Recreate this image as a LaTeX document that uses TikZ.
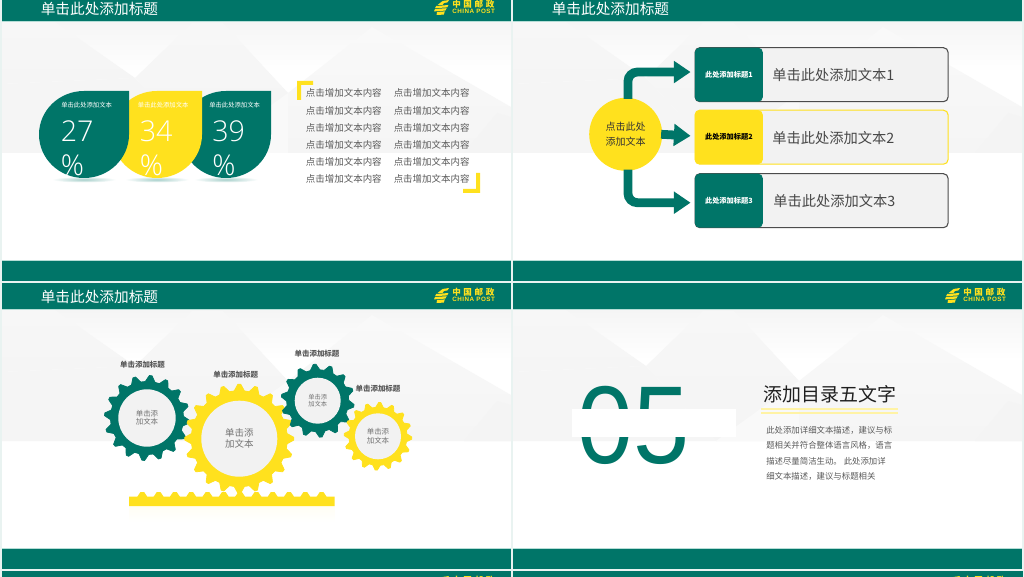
\documentclass[tikz,border=0pt]{standalone}
\usepackage{fontspec}
\usetikzlibrary{arrows.meta,shapes.geometric}
\setmainfont{Noto Sans CJK SC}
\newfontfamily\numfont[UprightFont=* Light]{Open Sans}
\newfontfamily\bignum{Liberation Sans}
\newfontfamily\logofont[LetterSpace=8]{Liberation Sans}
\definecolor{post}{HTML}{007568}
\definecolor{mail}{HTML}{FFE11E}
\definecolor{pale}{HTML}{E9F3F1}
\definecolor{edge}{HTML}{B5DDD6}
\definecolor{soft}{HTML}{F2F2F2}
\definecolor{body}{HTML}{595959}
\definecolor{bgA}{HTML}{F9F9F9}
\definecolor{bgB}{HTML}{F7F7F7}
\definecolor{bgC}{HTML}{F5F5F5}
\definecolor{bgD}{HTML}{F4F4F4}
\newcommand{\fs}[2]{\fontsize{#1}{#2}\selectfont}
\newcommand{\slidebase}[2]{%
 \begin{scope}[shift={(#1,#2)}]
  \fill[white] (2,22) rectangle (511,261);
  \shade[top color=bgC,bottom color=white] (2,22) rectangle (511,72);
  \fill[bgC] (2,84) -- (135,78) -- (205,153) -- (2,153) -- cycle;
  \shade[top color=bgB,bottom color=bgC] (2,22) -- (55,22) -- (135,78) -- (2,84) -- cycle;
  \shade[top color=bgB,bottom color=bgD] (135,78) -- (192,23) -- (223,23) -- (288,93) -- (288,153) -- (205,153) -- cycle;
  \fill[bgA] (205,153) -- (288,93) -- (288,153) -- cycle;
  \shade[top color=bgA,bottom color=bgC] (288,93) -- (372,27) -- (511,107) -- (511,153) -- (288,153) -- cycle;
  \fill[bgD] (464,153) -- (497,113) -- (511,117) -- (511,153) -- cycle;
  \fill[post] (2,-5) rectangle (511,21);
  \fill[edge] (2,21) rectangle (511,22);
  \fill[edge] (2,260) rectangle (511,261);
  \fill[post] (2,261) rectangle (511,281);
 \end{scope}}
\newcommand{\logo}[3]{%
 \begin{scope}[shift={(#1,#2)}]
  \fill[mail] (3.6,5) -- (8.6,1) -- (15,0) -- (13.4,2.4) -- (10,3) -- (8.4,5) -- cycle;
  \fill[mail] (2.2,6) -- (14.4,5) -- (13.2,7.4) -- (1,8.2) -- cycle;
  \fill[mail] (1,9) -- (12.6,8.2) -- (11.4,10.6) -- (0,11.4) -- cycle;
  \fill[mail] (3,12) -- (10.8,11.4) -- (9.8,14.6) -- (2.6,15) -- cycle;
  \node[font=\fs{6.4}{7}\bfseries,text=mail,anchor=west,inner sep=0] (logoa#3) at (18,4.3) {中\hspace{2pt}国\hspace{2pt}邮\hspace{2pt}政};
  \node[font=\logofont\fs{4.7}{5}\bfseries,text=mail,anchor=west,inner sep=0] (logob#3) at (18,11.7) {CHINA POST};
 \end{scope}}
\newcommand{\drop}[3]{%
 \begin{scope}[shift={(#1,#2)}]
  \fill[#3] (90,0) -- (45,0) .. controls (20.1,0) and (0,19.5) .. (0,43.5) .. controls (0,67.5) and (20.1,87) .. (45,87) .. controls (69.9,87) and (90,67.5) .. (90,43.5) -- cycle;
 \end{scope}}
\newcommand{\gear}[7]{%
 \begin{scope}[shift={(#1,#2)}]
  \pgfmathsetmacro{\gp}{360/#5}
  \filldraw[#7,line width=0.6pt,line join=round] (#6-0.34*\gp:#4)
   \foreach \i in {1,...,#5}{
     -- ({#6+(\i-1)*\gp-0.34*\gp}:#4)
     -- ({#6+(\i-1)*\gp-0.08*\gp}:#3-0.5)
     -- ({#6+(\i-1)*\gp+0.08*\gp}:#3-0.5)
     -- ({#6+(\i-1)*\gp+0.34*\gp}:#4)
   } -- cycle;
 \end{scope}}
\tikzset{
 hubnode/.style={circle,fill=mail,minimum size=73*0.75pt,inner sep=0,align=center},
 rowbox/.style={rectangle,rounded corners=3.5pt,fill=soft,draw=#1,line width=0.8pt,minimum width=253*0.75pt,minimum height=54*0.75pt,inner sep=0},
 tabbox/.style={rectangle,rounded corners=3.5pt,fill=#1,minimum width=68*0.75pt,minimum height=54*0.75pt,inner sep=0,anchor=west},
 rowtext/.style={font=\fs{10.7}{13},text=black!72,anchor=west,inner sep=0},
 flow/.style={draw=post,line width=6.6pt,-{Triangle[length=12.5pt,width=16pt]},rounded corners=7pt},
 geartext/.style={circle,fill=soft,inner sep=0,align=center,text=black!55},
 gearlabel/.style={font=\fs{5.6}{7}\bfseries,text=black!65,inner sep=0},
 listtext/.style={font=\fs{7.1}{9},text=body,inner sep=0,anchor=west},
 droptext/.style={font=\fs{4.75}{6},text=white,inner sep=0,anchor=west},
 dropnum/.style={font=\numfont\fs{21.5}{26},text=white,inner sep=0,anchor=west},
 paraline/.style={font=\fs{6.3}{8},text=body,inner sep=0,anchor=west},
 slidetitle/.style={font=\fs{11}{13},text=white,anchor=west,inner sep=0},
}
\begin{document}
\begin{tikzpicture}[x=0.75pt,y=-0.75pt]
\useasboundingbox (0,0) rectangle (1024,577);
\clip (0,0) rectangle (1024,577);
\fill[pale] (0,0) rectangle (1024,577);
\slidebase{0}{0}
\slidebase{511}{0}
\slidebase{0}{288}
\slidebase{511}{288}
\fill[post] (2,571) rectangle (511,577);
\fill[post] (513,571) rectangle (1023,577);
\logo{434}{0}{a}
\logo{434}{288}{c}
\logo{945}{288}{d}
\logo{434}{576}{e}
\logo{945}{576}{f}
\node[slidetitle] (ta) at (40.5,8.5) {单击此处添加标题};
\node[slidetitle] (tb) at (551.5,8.5) {单击此处添加标题};
\node[slidetitle] (tc) at (40.5,296.5) {单击此处添加标题};
% slide 1
\shade[inner color=post!35,outer color=white] (84,179.5) ellipse (32 and 3);
\shade[inner color=post!35,outer color=white] (157,179.5) ellipse (32 and 3);
\shade[inner color=post!35,outer color=white] (226,179.5) ellipse (32 and 3);
\drop{181}{91}{post}
\drop{112}{91}{mail}
\drop{39}{91}{post}
\node[droptext] (d1) at (61,105) {单击此处添加文本};
\node[droptext] (d2) at (137.5,105) {单击此处添加文本};
\node[droptext] (d3) at (209,105) {单击此处添加文本};
\node[dropnum] (n1) at (60.5,131) {27};
\node[dropnum] (n2) at (139.5,131) {34};
\node[dropnum] (n3) at (212,131) {39};
\node[dropnum] (p1) at (60.5,165) {\%};
\node[dropnum] (p2) at (139.5,165) {\%};
\node[dropnum] (p3) at (212,165) {\%};
\fill[mail] (297,81) -- (313,81) -- (313,85) -- (301,85) -- (301,100) -- (297,100) -- cycle;
\fill[mail] (480,193) -- (463,193) -- (463,189) -- (476,189) -- (476,173) -- (480,173) -- cycle;
\foreach \k/\yy in {1/93,2/110.5,3/127.5,4/144.5,5/161.5,6/179}{
 \node[listtext] (la\k) at (305.7,\yy) {点击增加文本内容};
 \node[listtext] (lb\k) at (393.5,\yy) {点击增加文本内容};
}
% slide 2
\node[rowbox=black!70] (box1) at (821.6,74.7) {};
\node[rowbox=mail] (box2) at (821.6,137.2) {};
\node[rowbox=black!70] (box3) at (821.6,200.7) {};
\node[tabbox=post,font=\fs{5.4}{7}\bfseries,text=white] (tab1) at (box1.west) {此处添加标题1};
\node[tabbox=mail,font=\fs{5.4}{7}\bfseries,text=black] (tab2) at (box2.west) {此处添加标题2};
\node[tabbox=post,font=\fs{5.4}{7}\bfseries,text=white] (tab3) at (box3.west) {此处添加标题3};
\node[rowtext] (r1) at (772,75.5) {单击此处添加文本1};
\node[rowtext] (r2) at (772,138) {单击此处添加文本2};
\node[rowtext] (r3) at (773,201.5) {单击此处添加文本3};
\node[hubnode,font=\fs{7.5}{11},text=black!80] (hubc) at (625.7,134.3) {点击此处\\添加文本};
\draw[flow] ([xshift=1.7pt,yshift=-1pt]hubc.north) |- ([xshift=-3pt,yshift=2pt]box1.west);
\draw[flow] ([xshift=-1pt]hubc.east) -- ([xshift=-3pt,yshift=1pt]box2.west);
\draw[flow] ([xshift=1.7pt,yshift=1pt]hubc.south) |- ([xshift=-3pt,yshift=-1.5pt]box3.west);
% slide 3
\gear{147}{418}{43}{36.5}{16}{5}{post}
\gear{239.3}{438.7}{55}{48}{20}{0}{mail}
\gear{317.7}{400.7}{37}{31}{14}{8}{post}
\gear{378}{436.3}{34.3}{29}{16}{3}{mail}
\node[geartext,minimum size=57.4*0.75pt,font=\fs{5.6}{6.2}] (g1) at (147,418) {单击添\\加文本};
\node[geartext,minimum size=76*0.75pt,font=\fs{7.1}{8.4}] (g2) at (239.3,438.7) {单击添\\加文本};
\node[geartext,minimum size=46*0.75pt,font=\fs{4.7}{5.8}] (g3) at (317.7,400.7) {单击添\\加文本};
\node[geartext,minimum size=46*0.75pt,font=\fs{5.6}{6.2}] (g4) at (378,436.3) {单击添\\加文本};
\node[gearlabel] (gl1) at (142.5,364.3) {单击添加标题};
\node[gearlabel] (gl2) at (235.7,374.3) {单击添加标题};
\node[gearlabel] (gl3) at (317,353.3) {单击添加标题};
\node[gearlabel] (gl4) at (378,388.3) {单击添加标题};
\shade[top color=mail!5,bottom color=white] (129,506) rectangle (334.7,522);
\fill[mail] (129,506) -- (129,496.7)
 \foreach \i in {0,...,11}{ -- ({137.3+\i*16.3},496.7) -- ({140.5+\i*16.3},492) -- ({144.1+\i*16.3},492) -- ({147.3+\i*16.3},496.7) }
 -- (334.7,496.7) -- (334.7,506) -- cycle;
% slide 4
\node[font=\bignum\fs{83}{90},text=post,inner sep=0,xscale=.91] (big) at (634,425) {05};
\fill[white] (572,409) rectangle (736,436.7);
\node[font=\fs{14.2}{17},text=black!88,inner sep=0,anchor=west] (h4) at (763.7,394.7) {添加目录五文字};
\fill[mail!40] (761,408.4) rectangle (898,409.8);
\fill[mail!40] (761,412.4) rectangle (898,413.8);
\node[paraline] (q1) at (766,430.3) {此处添加详细文本描述，建议与标};
\node[paraline] (q2) at (766,445.7) {题相关并符合整体语言风格，语言};
\node[paraline] (q3) at (766,461) {描述尽量简洁生动。 此处添加详};
\node[paraline] (q4) at (766,476) {细文本描述，建议与标题相关};
\end{tikzpicture}
\end{document}
